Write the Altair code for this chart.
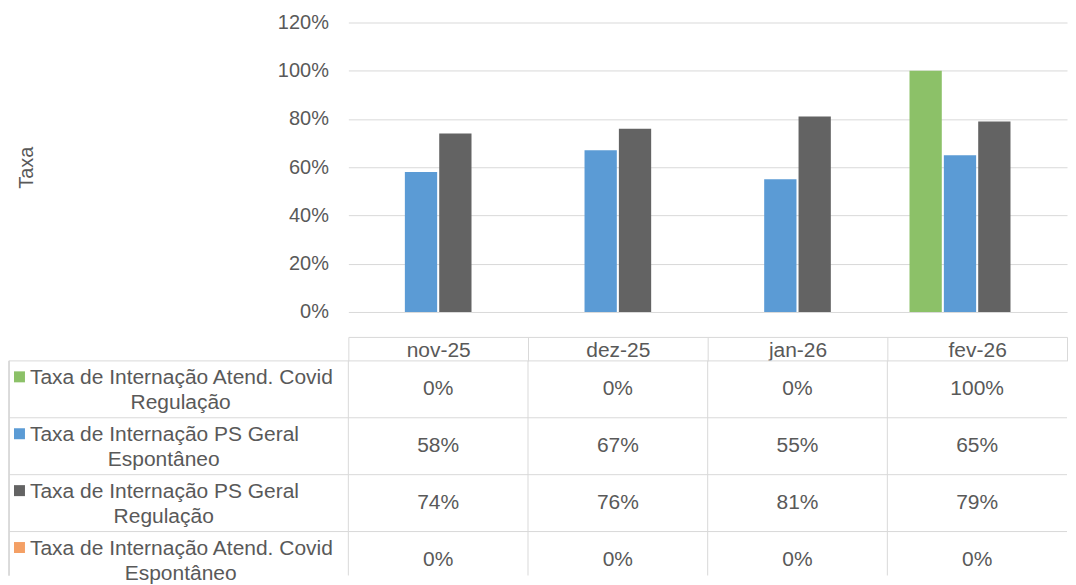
import altair as alt
import pandas as pd

# ---- data ----
months = ["nov-25", "dez-25", "jan-26", "fev-26"]
series = [
    "Taxa de Internação Atend. Covid Regulação",
    "Taxa de Internação PS Geral Espontâneo",
    "Taxa de Internação PS Geral Regulação",
    "Taxa de Internação Atend. Covid Espontâneo",
]
series_line1 = [
    "Taxa de Internação Atend. Covid",
    "Taxa de Internação PS Geral",
    "Taxa de Internação PS Geral",
    "Taxa de Internação Atend. Covid",
]
series_line2 = ["Regulação", "Espontâneo", "Regulação", "Espontâneo"]
covid_regulacao = [0.00, 0.00, 0.00, 1.00]
ps_espontaneo = [0.58, 0.67, 0.55, 0.65]
ps_regulacao = [0.74, 0.76, 0.81, 0.79]
covid_espontaneo = [0.00, 0.00, 0.00, 0.00]
colors = ["#8CC168", "#5B9BD5", "#636363", "#F4A065"]
y_ticks = [0, 0.2, 0.4, 0.6, 0.8, 1.0, 1.2]

FONT = "Liberation Sans"
TXT = "#595959"
GRID = "#D9D9D9"
FS = 20      # y axis
FT = 21      # data table

values_by_series = [covid_regulacao, ps_espontaneo, ps_regulacao, covid_espontaneo]
rows = []
for s, vals in zip(series, values_by_series):
    for m, v in zip(months, vals):
        rows.append({"month": m, "series": s, "value": v})
df = pd.DataFrame(rows)
df_leg = pd.DataFrame({"series": series, "line1": series_line1,
                       "line2": series_line2, "col": ["Série"] * 4})
df_months = pd.DataFrame({"month": months})

color = alt.Color("series:N", scale=alt.Scale(domain=series, range=colors), legend=None)
row_scale = alt.Scale(domain=series, range=[0, 228], paddingInner=0, paddingOuter=0)
month_scale = alt.Scale(domain=months, paddingInner=0, paddingOuter=0)

# ---- top-left empty cell ----
blank = (
    alt.Chart(pd.DataFrame({"z": [0]}))
    .mark_text(text="", opacity=0)
    .encode(x=alt.value(0))
    .properties(width=340, height=290)
)

# ---- bar chart (x axis doubles as the table header) ----
bars = (
    alt.Chart(df)
    .mark_bar()
    .encode(
        x=alt.X(
            "month:N", sort=months, scale=month_scale,
            axis=alt.Axis(
                title=None, orient="bottom", offset=25, domainColor=GRID,
                ticks=True, tickBand="extent", tickSize=24, tickColor=GRID,
                labelPadding=-10, labelBaseline="middle", labelAngle=0,
                labelFontSize=FT, labelColor=TXT,
            ),
        ),
        xOffset=alt.XOffset(
            "series:N", sort=series,
            scale=alt.Scale(paddingInner=0.06, paddingOuter=0.645),
        ),
        y=alt.Y(
            "value:Q",
            scale=alt.Scale(domain=[0, 1.2], nice=False),
            axis=alt.Axis(
                values=y_ticks, format=".0%", title="Taxa", titlePadding=241,
                titleFontSize=FS, titleFontWeight="normal", titleColor=TXT,
                labelFontSize=FS, labelColor=TXT, labelPadding=20,
                ticks=False, tickSize=0, domain=False, grid=True, gridColor=GRID,
            ),
        ),
        color=color,
    )
    .properties(width=720, height=290)
)

# ---- legend column of the data table ----
leg_x = alt.X("col:N", scale=alt.Scale(paddingInner=0, paddingOuter=0), axis=None)
leg_y = alt.Y("series:N", sort=series, scale=row_scale, axis=None)
leg_base = alt.Chart(df_leg)
leg_hrules = leg_base.mark_rule(color=GRID, strokeWidth=1).encode(
    y=alt.Y("series:N", sort=series, scale=row_scale, axis=None, bandPosition=0)
)
leg_vrule = leg_base.mark_rule(color=GRID, strokeWidth=1).encode(
    x=alt.X("col:N", scale=alt.Scale(paddingInner=0, paddingOuter=0), axis=None, bandPosition=0)
)
leg_line1 = leg_base.mark_text(
    fontSize=FT, color=TXT, align="left", dx=-149, dy=-11, baseline="middle"
).encode(x=leg_x, y=leg_y, text="line1:N")
leg_line2_covid = leg_base.transform_filter(
    "indexof(datum.series, 'Covid') >= 0"
).mark_text(
    fontSize=FT, color=TXT, align="center", dx=2, dy=14, baseline="middle"
).encode(x=leg_x, y=leg_y, text="line2:N")
leg_line2_ps = leg_base.transform_filter(
    "indexof(datum.series, 'Covid') < 0"
).mark_text(
    fontSize=FT, color=TXT, align="center", dx=-15, dy=14, baseline="middle"
).encode(x=leg_x, y=leg_y, text="line2:N")
leg_sq = leg_base.mark_square(size=121, opacity=1, xOffset=-159.5, yOffset=-12.5).encode(
    x=leg_x, y=leg_y, color=color
)
legend_col = alt.layer(
    leg_hrules, leg_vrule, leg_sq, leg_line1, leg_line2_covid, leg_line2_ps
).properties(width=340, height=215)

# ---- values of the data table ----
val_hrules = alt.Chart(df_leg).mark_rule(color=GRID, strokeWidth=1).encode(
    y=alt.Y("series:N", sort=series, scale=row_scale, axis=None, bandPosition=0)
)
val_vrules = alt.Chart(df_months).mark_rule(color=GRID, strokeWidth=1).encode(
    x=alt.X("month:N", sort=months, scale=month_scale, axis=None, bandPosition=0)
)
val_text = (
    alt.Chart(df)
    .mark_text(fontSize=FT, color=TXT, baseline="middle")
    .encode(
        x=alt.X("month:N", sort=months, scale=month_scale, axis=None),
        y=alt.Y("series:N", sort=series, scale=row_scale, axis=None),
        text=alt.Text("value:Q", format=".0%"),
    )
)
vals_chart = alt.layer(val_hrules, val_vrules, val_text).properties(width=720, height=215)

chart = (
    alt.concat(blank, bars, legend_col, vals_chart, columns=2,
               spacing={"row": 49, "column": 0}, bounds="flush")
    .resolve_scale(x="independent", y="independent")
    .properties(padding={"left": 0, "top": 4, "right": 0, "bottom": 0})
    .configure(font=FONT)
    .configure_view(stroke=None)
    .configure_axis(labelFont=FONT, titleFont=FONT)
)

chart.save("out.html", embed_options={"renderer": "svg", "actions": False})
